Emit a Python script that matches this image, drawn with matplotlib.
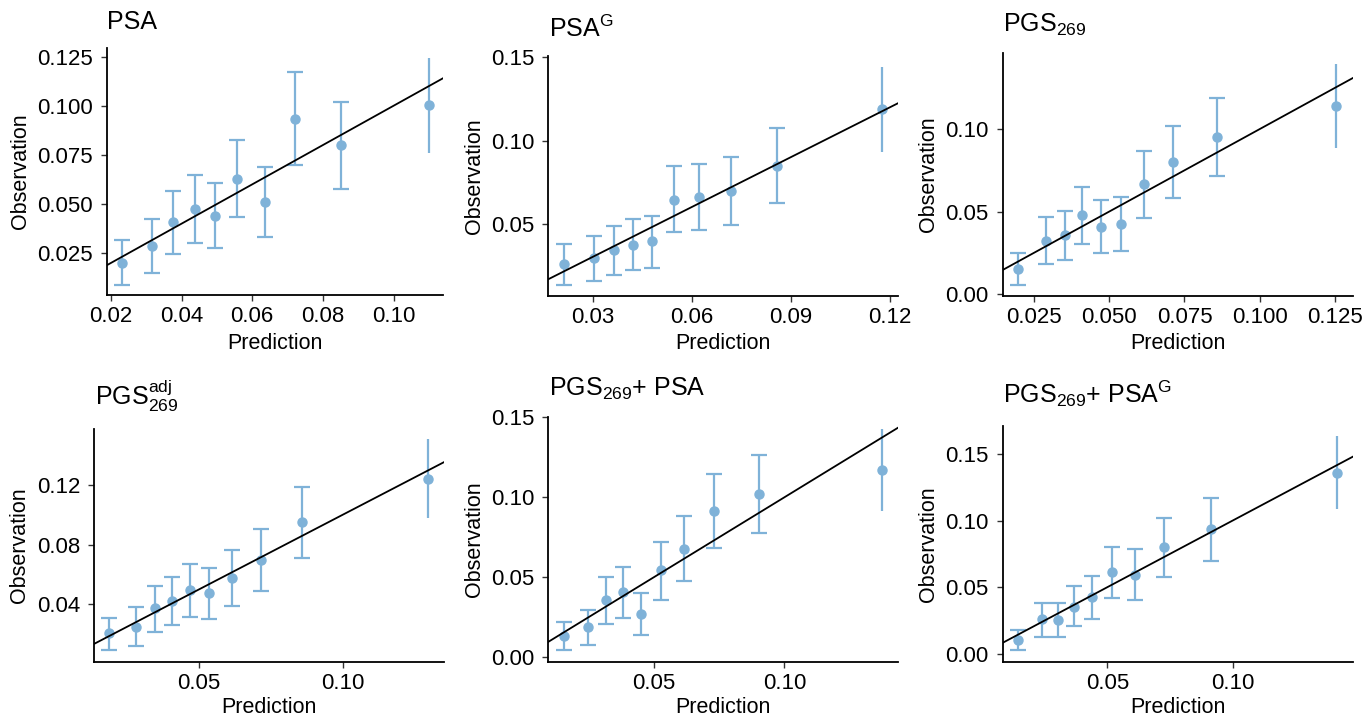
import matplotlib
matplotlib.use("Agg")
import matplotlib.pyplot as plt
import numpy as np

plt.rcParams['font.family'] = ['Liberation Sans', 'DejaVu Sans']
plt.rcParams['mathtext.fontset'] = 'custom'
plt.rcParams['mathtext.rm'] = 'Liberation Sans'
plt.rcParams['mathtext.it'] = 'Liberation Sans:italic'
plt.rcParams['mathtext.bf'] = 'Liberation Sans:bold'

titles = ["PSA", r"PSA$^{\mathrm{G}}$", r"PGS$_{\mathrm{269}}$",
          r"PGS$_{\mathrm{269}}^{\mathrm{adj}}$", r"PGS$_{\mathrm{269}}$+ PSA",
          r"PGS$_{\mathrm{269}}$+ PSA$^{\mathrm{G}}$"]

# PSA
psa_pred = [0.0232, 0.0317, 0.0376, 0.0439, 0.0495, 0.0558, 0.0636, 0.0722, 0.0852, 0.1099]
psa_obs = [0.0202, 0.0287, 0.0406, 0.0474, 0.0440, 0.0628, 0.0509, 0.0935, 0.0798, 0.1002]
psa_lo = [0.0088, 0.0151, 0.0247, 0.0304, 0.0276, 0.0432, 0.0332, 0.0701, 0.0578, 0.0760]
psa_hi = [0.0315, 0.0423, 0.0566, 0.0650, 0.0607, 0.0825, 0.0687, 0.1172, 0.1017, 0.1245]

# PSA^G
psag_pred = [0.0213, 0.0304, 0.0366, 0.0423, 0.0481, 0.0545, 0.0622, 0.0720, 0.0857, 0.1176]
psag_obs = [0.0256, 0.0292, 0.0340, 0.0374, 0.0394, 0.0644, 0.0662, 0.0694, 0.0849, 0.1189]
psag_lo = [0.0131, 0.0155, 0.0193, 0.0223, 0.0235, 0.0448, 0.0462, 0.0490, 0.0624, 0.0929]
psag_hi = [0.0378, 0.0424, 0.0486, 0.0528, 0.0546, 0.0845, 0.0861, 0.0903, 0.1075, 0.1444]

# PGS269
pgs_pred = [0.0198, 0.0289, 0.0353, 0.0411, 0.0473, 0.0538, 0.0614, 0.0712, 0.0858, 0.1255]
pgs_obs = [0.0154, 0.0323, 0.0358, 0.0477, 0.0408, 0.0426, 0.0665, 0.0800, 0.0951, 0.1139]
pgs_lo = [0.0055, 0.0180, 0.0208, 0.0305, 0.0246, 0.0263, 0.0461, 0.0580, 0.0717, 0.0887]
pgs_hi = [0.0246, 0.0465, 0.0505, 0.0646, 0.0568, 0.0586, 0.0865, 0.1018, 0.1190, 0.1394]

# PGS269 adj
adj_pred = [0.0187, 0.0280, 0.0346, 0.0406, 0.0470, 0.0536, 0.0615, 0.0716, 0.0860, 0.1297]
adj_obs = [0.0206, 0.0250, 0.0373, 0.0425, 0.0494, 0.0474, 0.0577, 0.0695, 0.0952, 0.1243]
adj_lo = [0.0094, 0.0123, 0.0217, 0.0259, 0.0317, 0.0304, 0.0387, 0.0492, 0.0713, 0.0977]
adj_hi = [0.0311, 0.0380, 0.0523, 0.0585, 0.0668, 0.0646, 0.0767, 0.0903, 0.1189, 0.1506]

# PGS269 + PSA
comb_pred = [0.0157, 0.0249, 0.0316, 0.0381, 0.0450, 0.0528, 0.0616, 0.0732, 0.0903, 0.1375]
comb_obs = [0.0134, 0.0188, 0.0357, 0.0409, 0.0271, 0.0544, 0.0678, 0.0916, 0.1018, 0.1170]
comb_lo = [0.0046, 0.0077, 0.0207, 0.0248, 0.0142, 0.0361, 0.0476, 0.0682, 0.0774, 0.0912]
comb_hi = [0.0223, 0.0296, 0.0503, 0.0565, 0.0403, 0.0724, 0.0882, 0.1147, 0.1262, 0.1427]

# PGS269 + PSA^G
combg_pred = [0.0145, 0.0238, 0.0304, 0.0367, 0.0439, 0.0519, 0.0610, 0.0727, 0.0914, 0.1415]
combg_obs = [0.0103, 0.0258, 0.0255, 0.0353, 0.0426, 0.0613, 0.0593, 0.0799, 0.0936, 0.1357]
combg_lo = [0.0028, 0.0128, 0.0128, 0.0208, 0.0263, 0.0421, 0.0406, 0.0578, 0.0699, 0.1084]
combg_hi = [0.0178, 0.0381, 0.0381, 0.0506, 0.0586, 0.0804, 0.0786, 0.1019, 0.1172, 0.1632]

series = [
    (psa_pred, psa_obs, psa_lo, psa_hi),
    (psag_pred, psag_obs, psag_lo, psag_hi),
    (pgs_pred, pgs_obs, pgs_lo, pgs_hi),
    (adj_pred, adj_obs, adj_lo, adj_hi),
    (comb_pred, comb_obs, comb_lo, comb_hi),
    (combg_pred, combg_obs, combg_lo, combg_hi),
]

xticks = [[0.02, 0.04, 0.06, 0.08, 0.10], [0.03, 0.06, 0.09, 0.12],
          [0.025, 0.050, 0.075, 0.100, 0.125], [0.05, 0.10], [0.05, 0.10], [0.05, 0.10]]
xfmt = ["%.2f", "%.2f", "%.3f", "%.2f", "%.2f", "%.2f"]
yticks = [[0.025, 0.050, 0.075, 0.100, 0.125], [0.05, 0.10, 0.15], [0.00, 0.05, 0.10],
          [0.04, 0.08, 0.12], [0.00, 0.05, 0.10, 0.15], [0.00, 0.05, 0.10, 0.15]]
yfmt = ["%.3f", "%.2f", "%.2f", "%.2f", "%.2f", "%.2f"]
xlims = [(0.0189, 0.1140), (0.0166, 0.1225), (0.0146, 0.1309),
         (0.0135, 0.1353), (0.0097, 0.1436), (0.0082, 0.1479)]
ylims = [(0.0037, 0.1294), (0.0067, 0.1508), (-0.0010, 0.1463),
         (0.0016, 0.1573), (-0.0027, 0.1500), (-0.0060, 0.1710)]

# axes boxes in pixels: left, right, top, bottom
W, H = 1369, 717
boxes = [(107, 443, 48, 295), (548.3, 898.3, 56, 295.7), (1002.7, 1352.7, 52.7, 295.7),
         (94, 444, 429.3, 661.7), (548.3, 898.3, 417.3, 661.7), (1002.7, 1352.7, 426, 661.7)]
title_pos = [(107, 29), (549, 37.3), (1003, 31.7), (95, 405), (549, 395.7), (1003, 402.7)]
xlabel_pads = [4, 4, 4, 2.5, 2.5, 2.5]

color = '#7FB2D8'
fig = plt.figure(figsize=(W / 100, H / 100), dpi=100)

for i in range(6):
    l, r, t, b = boxes[i]
    ax = fig.add_axes([l / W, 1 - b / H, (r - l) / W, (b - t) / H])
    pred, obs, lo, hi = [np.array(v) for v in series[i]]
    xl = xlims[i]
    ax.plot(xl, xl, color='black', lw=1.3, zorder=3)
    yerr = np.vstack([obs - lo, hi - obs])
    ax.errorbar(pred[:-1], obs[:-1], yerr=yerr[:, :-1], fmt='o', color=color,
                ms=6.5, elinewidth=1.6, capsize=6, capthick=1.6, zorder=2)
    ax.errorbar(pred[-1:], obs[-1:], yerr=yerr[:, -1:], fmt='o', color=color,
                ms=6.5, elinewidth=1.6, capsize=0, zorder=2)
    ax.set_xlim(*xl)
    ax.set_ylim(*ylims[i])
    ax.set_xticks(xticks[i])
    ax.set_xticklabels([xfmt[i] % v for v in xticks[i]])
    ax.set_yticks(yticks[i])
    ax.set_yticklabels([yfmt[i] % v for v in yticks[i]])
    for s in ['top', 'right']:
        ax.spines[s].set_visible(False)
    for s in ['left', 'bottom']:
        ax.spines[s].set_linewidth(1.3)
    ax.tick_params(axis='both', labelsize=16, width=1.0, length=4.0, color='#333333')
    ax.tick_params(axis='y', pad=6)
    ax.tick_params(axis='x', pad=4)
    ax.set_xlabel("Prediction", fontsize=15.5, labelpad=xlabel_pads[i])
    ax.set_ylabel("Observation", fontsize=15.5, labelpad=4.5)
    tx, ty = title_pos[i]
    fig.text(tx / W, 1 - ty / H, titles[i], fontsize=18, ha='left', va='baseline')

fig.savefig("out.png", dpi=100)
